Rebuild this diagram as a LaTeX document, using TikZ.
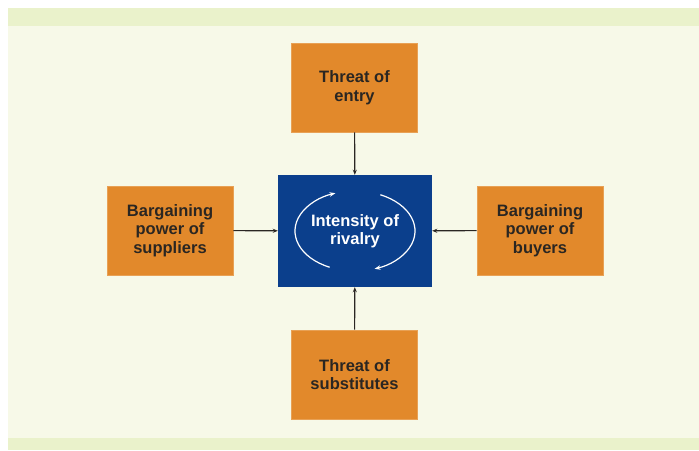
\documentclass[tikz,border=0pt]{standalone}
\usepackage{fontspec}
\setmainfont{Liberation Sans}
\usetikzlibrary{arrows.meta}
\definecolor{panel}{HTML}{F7F9E8}
\definecolor{stripe}{HTML}{EAF2CB}
\definecolor{forceorange}{HTML}{E2892B}
\definecolor{rivalblue}{HTML}{0B3F8C}
\definecolor{inktext}{HTML}{2A2622}
\begin{document}
\begin{tikzpicture}[x=1pt,y=1pt,
  force/.style={fill=forceorange, draw=forceorange!80!white, line width=0.6pt, minimum width=126pt, minimum height=89pt, inner sep=0pt, align=center, text=inktext, font=\fontsize{16.5}{18.5}\selectfont\bfseries},
  pushes/.style={draw=inktext, line width=1.1pt, -{Stealth[length=5pt,width=4pt]}},
  cycle/.style={draw=white, line width=1.2pt, -{Stealth[length=6pt,width=4.5pt]}}]
\useasboundingbox (0,0) rectangle (699,450);
% background panel with its two stripes
\fill[panel] (8,0) rectangle (699,442);
\fill[stripe] (8,424) rectangle (699,442);
\fill[stripe] (8,0) rectangle (699,12);
\node[fill=rivalblue, minimum width=154pt, minimum height=112pt, inner sep=0pt, align=center, text=white, font=\fontsize{16.5}{18.5}\selectfont\bfseries] (rivalry) at (355,219) {Intensity of\\rivalry};
\node[force] (entry) at (354.5,362.5) {Threat of\\entry};
\node[force] (suppliers) at (170,219.5) {Bargaining\\power of\\suppliers};
\node[force] (buyers) at (540,219.5) {Bargaining\\power of\\buyers};
\node[force] (substitutes) at (354.5,75.5) {Threat of\\substitutes};
\draw[pushes] (entry) -- (rivalry);
\draw[pushes] (suppliers) -- (rivalry);
\draw[pushes] (buyers) -- (rivalry);
\draw[pushes] (substitutes) -- (rivalry);
% circling arrows around the centre label
\draw[cycle] ([shift={(245:60 and 40)}]rivalry.center) arc[start angle=245, end angle=109, x radius=60, y radius=40];
\draw[cycle] ([shift={(65:60 and 40)}]rivalry.center) arc[start angle=65, end angle=-71, x radius=60, y radius=40];
\end{tikzpicture}
\end{document}
